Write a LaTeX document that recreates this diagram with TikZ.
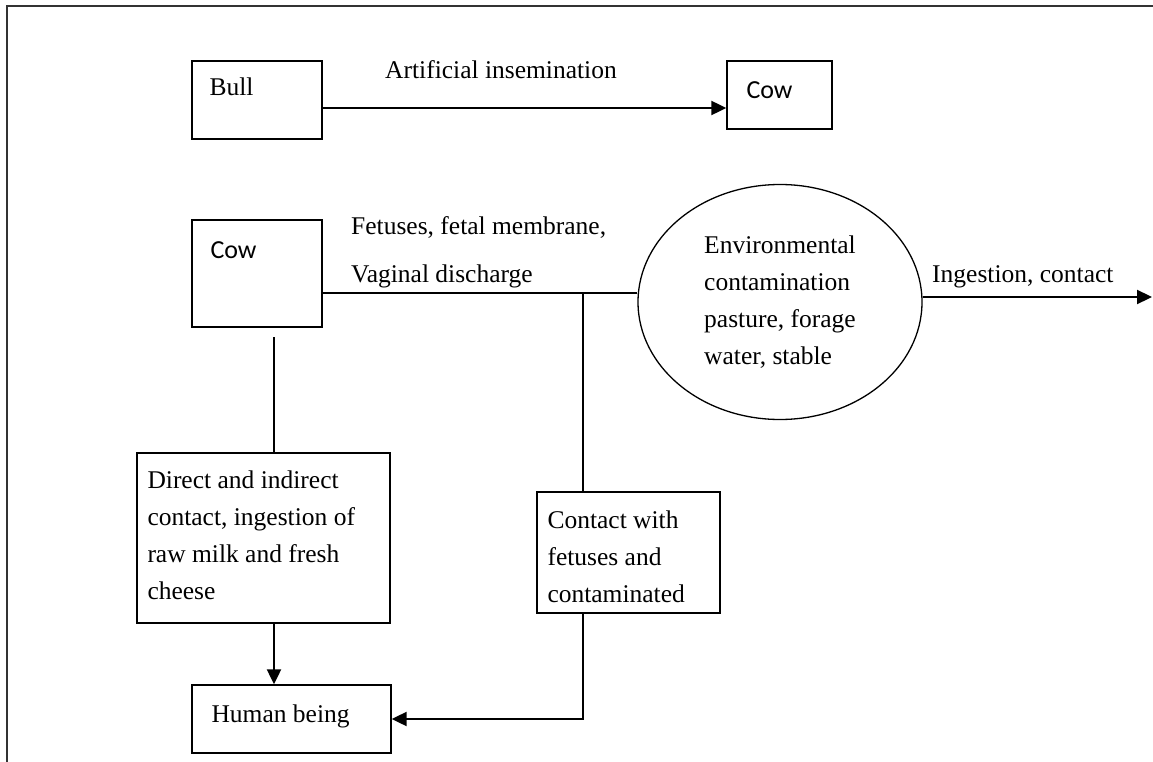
\documentclass[tikz,border=0pt]{standalone}
\usepackage{fontspec}
\setmainfont{Liberation Serif}
\newfontfamily\cowfont{Carlito}
\usetikzlibrary{arrows.meta,shapes.geometric}

\begin{document}
\begin{tikzpicture}[x=1pt, y=-1pt,
    every node/.style = {font=\fontsize{25.5}{37}\selectfont},
    box/.style = {shape=rectangle, draw, line width=1.4pt, inner sep=0pt},
    boxtext/.style = {anchor=north west, align=left, inner sep=0pt},
    cowtext/.style = {boxtext, font=\cowfont\fontsize{26}{30}\selectfont},
    link/.style = {line width=1.3pt},
    flow/.style = {line width=2.2pt, -{Triangle[length=15pt, width=14pt]}}]
  \useasboundingbox (0,0) rectangle (1153,762);
  \draw[line width=1.6pt, black!80] (7,762) -- (7,6) -- (1153,6);

  \node[box, minimum width=130pt, minimum height=78pt,
        label={[boxtext, xshift=18pt, yshift=-17pt]north west:Bull}] (bull) at (257,100) {};
  \node[box, minimum width=105pt, minimum height=68pt,
        label={[cowtext, xshift=20pt, yshift=-21pt]north west:Cow}] (cowtop) at (779.5,95) {};
  \node[boxtext, anchor=west] (insem) at (385,70) {Artificial insemination};

  \node[box, minimum width=130pt, minimum height=107pt,
        label={[cowtext, xshift=19pt, yshift=-22pt]north west:Cow}] (cow) at (257,273.5) {};
  \node[boxtext, anchor=west, font=\fontsize{25.5}{48}\selectfont] (fetus) at (351,252)
    {Fetuses, fetal membrane,\\Vaginal discharge};
  \node[shape=ellipse, draw, line width=1.3pt, align=left, inner sep=0pt,
        minimum width=284pt, minimum height=235pt] (env) at (780,302)
    {Environmental\\contamination\\pasture, forage\\water, stable};
  \node[boxtext, anchor=west] (ingest) at (932,277) {Ingestion, contact};

  \node[box, minimum width=253pt, minimum height=170pt,
        label={[boxtext, xshift=11pt, yshift=-18pt]north west:Direct and indirect\\contact, ingestion of\\raw milk and fresh\\cheese}] (direct) at (263.5,538) {};
  \node[box, minimum width=183pt, minimum height=121pt,
        label={[boxtext, xshift=11pt, yshift=-19pt]north west:Contact with\\fetuses and\\contaminated}] (contact) at (628.5,552.5) {};
  \node[box, minimum width=199pt, minimum height=68pt,
        label={[boxtext, xshift=20pt, yshift=-20pt]north west:Human being}] (human) at (291.5,719) {};

  \coordinate (split) at (583,293);
  \coordinate (drop) at (274,337);
  \coordinate (out) at (1152,297);

  \draw[flow] ([yshift=-8pt]bull.east) -- ([yshift=-8pt]bull.east -| cowtop.west);
  \draw[link] ([yshift=-19.5pt]cow.east) -- (split) -- (split -| env.west);
  \draw[link] (split) -- (split |- contact.north);
  \draw[flow] ([yshift=5pt]env.east) -- (out);
  \draw[link] (drop) -- (drop |- direct.north);
  \draw[flow] (drop |- direct.south) -- (drop |- human.north);
  \draw[flow] (split |- contact.south) |- (human.east);
\end{tikzpicture}
\end{document}
